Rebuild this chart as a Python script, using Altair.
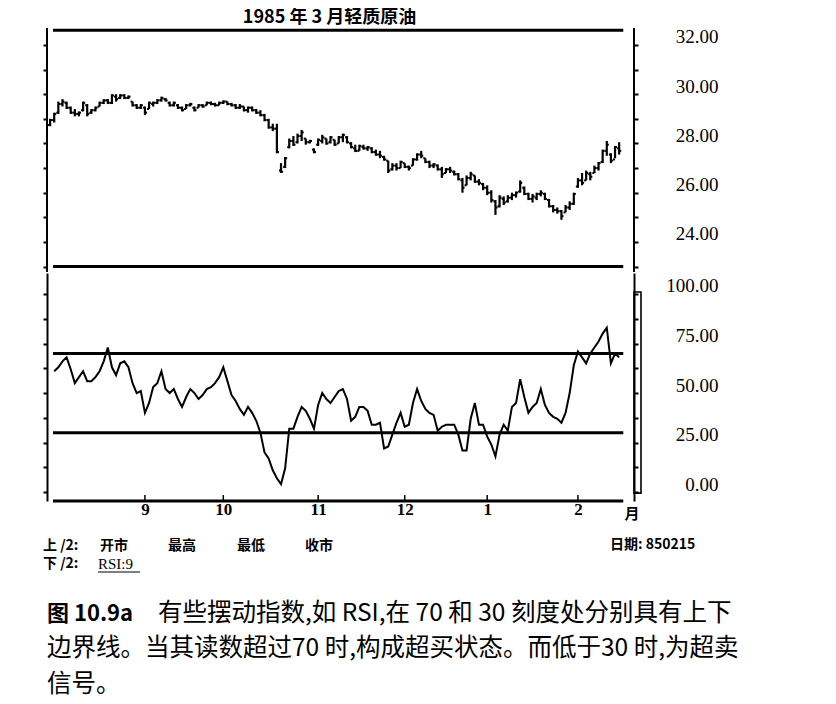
import altair as alt
import pandas as pd

TITLE = "1985 年 3 月轻质原油"

# Daily OHLC (trading-day index 0..138, Aug 1984 - 15 Feb 1985)
OPEN = [28.75, 28.95, 29.25, 29.60, 29.65, 29.45, 29.25, 29.20, 29.35, 29.55,
        29.25, 29.35, 29.50, 29.65, 29.75, 29.65, 29.90, 29.85, 29.95, 29.85,
        29.70, 29.55, 29.45, 29.45, 29.40, 29.60, 29.65, 29.75, 29.80, 29.65,
        29.55, 29.55, 29.45, 29.40, 29.55, 29.45, 29.45, 29.55, 29.55, 29.65,
        29.60, 29.55, 29.65, 29.70, 29.60, 29.55, 29.45, 29.50, 29.35, 29.45,
        29.35, 29.25, 29.15, 28.95, 28.65, 28.60, 26.90, 27.05, 27.85, 28.10,
        28.05, 28.30, 28.20, 28.05, 27.75, 27.95, 28.10, 28.20, 28.05, 28.15,
        28.00, 28.25, 28.25, 28.00, 27.80, 27.70, 27.85, 27.80, 27.80, 27.65,
        27.55, 27.45, 27.30, 26.95, 27.10, 27.00, 27.20, 27.05, 27.10, 27.35,
        27.55, 27.40, 27.25, 27.10, 27.10, 26.95, 26.80, 26.95, 26.85, 26.75,
        26.50, 26.30, 26.60, 26.70, 26.45, 26.35, 26.20, 26.00, 25.65, 25.45,
        25.75, 25.65, 25.80, 25.90, 26.05, 26.20, 25.95, 25.75, 25.80, 25.95,
        25.95, 25.70, 25.45, 25.30, 25.25, 25.20, 25.40, 25.55, 26.25, 26.50,
        26.50, 26.75, 26.80, 27.00, 27.25, 27.70, 27.55, 27.35, 27.80]
HIGH = [29.00, 29.25, 29.70, 29.80, 29.70, 29.50, 29.40, 29.30, 29.70, 29.60,
        29.40, 29.50, 29.70, 29.80, 29.80, 30.00, 30.00, 30.00, 30.00, 29.95,
        29.70, 29.60, 29.60, 29.50, 29.70, 29.70, 29.80, 29.90, 29.85, 29.70,
        29.70, 29.60, 29.50, 29.60, 29.65, 29.50, 29.60, 29.60, 29.70, 29.70,
        29.65, 29.70, 29.75, 29.70, 29.65, 29.60, 29.60, 29.50, 29.50, 29.50,
        29.40, 29.35, 29.20, 29.00, 28.80, 28.80, 27.20, 27.45, 28.20, 28.30,
        28.40, 28.55, 28.20, 28.15, 27.80, 28.20, 28.35, 28.20, 28.30, 28.15,
        28.30, 28.40, 28.30, 28.05, 27.95, 27.95, 27.95, 27.90, 27.85, 27.75,
        27.70, 27.50, 27.30, 27.20, 27.20, 27.30, 27.20, 27.10, 27.40, 27.60,
        27.70, 27.40, 27.30, 27.20, 27.15, 27.05, 27.00, 27.05, 26.90, 26.80,
        26.60, 26.70, 26.85, 26.70, 26.55, 26.40, 26.30, 26.10, 25.70, 25.90,
        25.85, 25.90, 26.00, 26.05, 26.50, 26.25, 26.00, 25.95, 26.00, 26.10,
        26.00, 25.75, 25.50, 25.40, 25.30, 25.50, 25.65, 26.00, 26.60, 26.80,
        26.90, 26.85, 27.10, 27.25, 27.75, 28.10, 27.60, 27.90, 28.05]
LOW = [28.70, 28.85, 29.20, 29.50, 29.40, 29.20, 29.10, 29.10, 29.30, 29.10,
       29.20, 29.30, 29.50, 29.60, 29.60, 29.60, 29.70, 29.80, 29.80, 29.80,
       29.50, 29.40, 29.40, 29.15, 29.40, 29.50, 29.60, 29.70, 29.70, 29.50,
       29.50, 29.40, 29.30, 29.40, 29.50, 29.30, 29.45, 29.45, 29.55, 29.55,
       29.50, 29.55, 29.60, 29.55, 29.50, 29.40, 29.40, 29.30, 29.25, 29.30,
       29.20, 29.10, 28.90, 28.60, 28.50, 27.60, 26.80, 27.00, 27.80, 27.90,
       28.00, 28.10, 27.95, 28.00, 27.60, 27.90, 28.00, 27.95, 28.00, 27.90,
       28.00, 28.05, 28.00, 27.80, 27.65, 27.70, 27.75, 27.70, 27.60, 27.50,
       27.40, 27.30, 26.80, 26.90, 26.90, 27.00, 27.00, 26.90, 27.10, 27.30,
       27.40, 27.20, 27.00, 27.00, 26.90, 26.60, 26.80, 26.80, 26.70, 26.50,
       26.00, 26.30, 26.50, 26.40, 26.30, 26.10, 25.90, 25.60, 25.10, 25.40,
       25.50, 25.60, 25.70, 25.80, 26.00, 25.90, 25.70, 25.60, 25.70, 25.85,
       25.70, 25.40, 25.20, 25.15, 24.90, 25.20, 25.30, 25.50, 26.20, 26.30,
       26.50, 26.50, 26.80, 26.90, 27.20, 27.50, 27.20, 27.40, 27.55]
CLOSE = [28.95, 29.20, 29.60, 29.70, 29.45, 29.25, 29.20, 29.25, 29.65, 29.20,
         29.35, 29.45, 29.65, 29.75, 29.65, 29.95, 29.80, 29.95, 29.85, 29.90,
         29.55, 29.45, 29.55, 29.25, 29.65, 29.65, 29.75, 29.85, 29.75, 29.55,
         29.65, 29.45, 29.35, 29.55, 29.60, 29.35, 29.55, 29.50, 29.65, 29.60,
         29.55, 29.65, 29.70, 29.60, 29.55, 29.45, 29.50, 29.35, 29.45, 29.35,
         29.25, 29.15, 28.95, 28.65, 28.60, 27.65, 26.85, 27.40, 28.10, 27.95,
         28.30, 28.45, 28.05, 28.10, 27.65, 28.15, 28.25, 28.00, 28.25, 27.95,
         28.25, 28.35, 28.05, 27.85, 27.70, 27.90, 27.80, 27.85, 27.65, 27.55,
         27.50, 27.35, 26.90, 27.10, 27.00, 27.25, 27.05, 27.00, 27.35, 27.55,
         27.50, 27.25, 27.10, 27.15, 26.95, 26.75, 26.95, 26.90, 26.75, 26.55,
         26.20, 26.60, 26.75, 26.45, 26.40, 26.20, 26.00, 25.70, 25.40, 25.80,
         25.60, 25.80, 25.90, 26.00, 26.40, 25.95, 25.75, 25.85, 25.95, 26.00,
         25.75, 25.45, 25.30, 25.25, 25.05, 25.40, 25.55, 25.95, 26.50, 26.40,
         26.80, 26.65, 27.00, 27.20, 27.70, 27.95, 27.30, 27.85, 27.70]

# RSI(9), starting at trading day 1
RSI = [61, 63, 66, 68, 62, 55, 58, 61, 56, 56, 58, 61, 66, 73, 63, 59, 65, 66, 63, 55,
       50, 51, 40, 45, 53, 55, 61, 52, 50, 52, 47, 43, 48, 52, 50, 47, 49, 52, 53, 55,
       58, 63, 56, 49, 46, 42, 39, 43, 40, 36, 30, 20, 17, 11, 7, 4, 12, 32, 32, 38,
       43, 41, 37, 32, 44, 50, 47, 45, 48, 51, 52, 47, 36, 38, 43, 43, 41, 34, 34, 35,
       22, 23, 29, 35, 40, 33, 34, 45, 52, 46, 42, 40, 39, 31, 33, 34, 34, 34, 29, 21,
       21, 37, 45, 34, 34, 28, 24, 18, 29, 34, 31, 43, 45, 57, 48, 40, 43, 45, 52, 44,
       40, 38, 37, 35, 40, 50, 64, 71, 68, 65, 70, 73, 76, 80, 83, 65, 70, 68]

MONTH_IDX = [23, 42, 65, 86, 106, 128]
MONTH_LABELS = ["9", "10", "11", "12", "1", "2"]
PRICE_TICKS = [23, 24, 25, 26, 27, 28, 29, 30, 31, 32]
RSI_TICKS = [0, 12.5, 25, 37.5, 50, 62.5, 75, 87.5, 100]
PRICE_FRAME = [32.6, 23.0]
RSI_LEVELS = [70, 30, -4.5]

FOOT_TOP = ["上 /2:", "开市", "最高", "最低", "收市"]
FOOT_BOTTOM = ["下 /2:", "RSI:9"]
DATE_TEXT = "日期: 850215"
MONTH_UNIT = "月"
CAP_BOLD = "图 10.9a"
CAPTION = ["有些摆动指数,如 RSI,在 70 和 30 刻度处分别具有上下",
           "边界线。当其读数超过70 时,构成超买状态。而低于30 时,为超卖",
           "信号。"]

# ---------------------------------------------------------------- layout
W, HP, HR = 587, 264, 228
XDOM = [-0.75, 141.6]
PDOM = [22.78, 33.50]
PAXIS_TOP = 32.69
RDOM = [-4.5, 110.6]
LINE_SPAN = [0.7, 139.0]
SERIF = "Liberation Serif"
CJK = "Noto Sans CJK SC"

n = len(CLOSE)
price_df = pd.DataFrame({"i": list(range(n)), "open": OPEN, "high": HIGH,
                         "low": LOW, "close": CLOSE})
rsi_df = pd.DataFrame({"i": list(range(1, n)), "rsi": RSI})
pframe = pd.DataFrame({"y": PRICE_FRAME, "x0": LINE_SPAN[0], "x1": LINE_SPAN[1]})
rframe = pd.DataFrame({"y": RSI_LEVELS, "x0": LINE_SPAN[0], "x1": LINE_SPAN[1]})
mticks = pd.DataFrame({"i": MONTH_IDX})
paxes = pd.DataFrame({"x": XDOM, "y0": PDOM[0], "y1": PAXIS_TOP})

xs = alt.Scale(domain=XDOM, nice=False, zero=False)
ps = alt.Scale(domain=PDOM, nice=False, zero=False)
rs = alt.Scale(domain=RDOM, nice=False, zero=False)

axis_common = dict(title=None, grid=False, domainColor="black", domainWidth=2,
                   tickColor="black", tickWidth=2, tickSize=4)
lab_common = dict(labelAlign="right", labelPadding=80, labelFont=SERIF,
                  labelFontSize=19, labelColor="black", labelBaseline="middle",
                  labelOffset=-8)
left_p = alt.Axis(orient="left", values=PRICE_TICKS, labels=False, domain=False,
                  **axis_common)
right_p = alt.Axis(orient="right", values=PRICE_TICKS, domain=False,
                   labelExpr="datum.value % 2 == 0 ? format(datum.value, '.2f') : ''",
                   **lab_common, **axis_common)
left_r = alt.Axis(orient="left", values=RSI_TICKS, labels=False, **axis_common)
right_r = alt.Axis(orient="right", values=RSI_TICKS,
                   labelExpr="datum.value % 25 == 0 ? format(datum.value, '.2f') : ''",
                   **lab_common, **axis_common)
lab_arr = "[" + ",".join("'%s'" % s for s in MONTH_LABELS) + "]"
idx_arr = "[" + ",".join(str(v) for v in MONTH_IDX) + "]"
bottom_x = alt.Axis(orient="bottom", values=MONTH_IDX, title=None, grid=False,
                    domain=False, ticks=False, labelPadding=0,
                    labelExpr=f"{lab_arr}[indexof({idx_arr}, datum.value)]",
                    labelFont=SERIF, labelFontSize=17, labelFontWeight="bold",
                    labelColor="black")

base = alt.Chart(price_df)
hl = base.mark_rule(color="black", strokeWidth=2.2).encode(
    x=alt.X("i:Q", scale=xs, axis=None),
    y=alt.Y("low:Q", scale=ps, axis=left_p), y2="high:Q")
op = base.transform_calculate(xo="datum.i - 0.5").mark_rule(
    color="black", strokeWidth=2).encode(
    x=alt.X("xo:Q", scale=xs, axis=None), x2="i:Q",
    y=alt.Y("open:Q", scale=ps, axis=None))
cl = base.transform_calculate(xc="datum.i + 0.5").mark_rule(
    color="black", strokeWidth=2).encode(
    x=alt.X("i:Q", scale=xs, axis=None), x2="xc:Q",
    y=alt.Y("close:Q", scale=ps, axis=right_p))
pf = alt.Chart(pframe).mark_rule(color="black", strokeWidth=3).encode(
    x=alt.X("x0:Q", scale=xs, axis=None), x2="x1:Q",
    y=alt.Y("y:Q", scale=ps, axis=None))
pax = alt.Chart(paxes).mark_rule(color="black", strokeWidth=2).encode(
    x=alt.X("x:Q", scale=xs, axis=None),
    y=alt.Y("y0:Q", scale=ps, axis=None), y2="y1:Q")
ttl = alt.Chart(pd.DataFrame({"t": [TITLE]})).mark_text(
    font=CJK, fontSize=18, fontWeight="bold", color="black", align="center",
    baseline="middle").encode(x=alt.value(W / 2 - 11), y=alt.value(10), text="t:N")

price = alt.layer(hl, op, cl, pf, pax, ttl).resolve_axis(y="independent").properties(
    width=W, height=HP)

rb = alt.Chart(rsi_df)
rl = rb.mark_line(color="black", strokeWidth=2).encode(
    x=alt.X("i:Q", scale=xs, axis=bottom_x),
    y=alt.Y("rsi:Q", scale=rs, axis=left_r))
rf = alt.Chart(rframe).mark_rule(color="black", strokeWidth=3).encode(
    x=alt.X("x0:Q", scale=xs, axis=None), x2="x1:Q",
    y=alt.Y("y:Q", scale=rs, axis=None))
mt = alt.Chart(mticks).mark_rule(color="black", strokeWidth=1.5).encode(
    x=alt.X("i:Q", scale=xs, axis=None),
    y=alt.datum(RDOM[0], scale=rs, axis=None), y2=alt.datum(RDOM[0] + 3))
box = alt.Chart(pd.DataFrame({"top": [101.0], "bot": [-0.5]})).mark_rect(
    fill="transparent", stroke="black", strokeWidth=1.6).encode(
    x=alt.value(W), x2=alt.value(W + 7),
    y=alt.Y("top:Q", scale=rs, axis=right_r), y2="bot:Q")


def txt(s, x, y, size=14, weight="bold", font=CJK, align="left"):
    return alt.Chart(pd.DataFrame({"t": [s]})).mark_text(
        font=font, fontSize=size, fontWeight=weight, color="black", align=align,
        baseline="middle").encode(x=alt.value(x), y=alt.value(y), text="t:N")


texts = [
    txt(MONTH_UNIT, W - 2, 241, size=15, align="center"),
    txt(FOOT_TOP[0], -4, 273), txt(FOOT_TOP[1], 53, 273), txt(FOOT_TOP[2], 121, 273),
    txt(FOOT_TOP[3], 190, 273), txt(FOOT_TOP[4], 258, 273),
    txt(FOOT_BOTTOM[0], -4, 291),
    txt(FOOT_BOTTOM[1], 51, 291, font=SERIF, weight="normal", size=15),
    txt(DATE_TEXT, 563, 272),
    txt(CAP_BOLD, 0, 341, size=22, weight="bold"),
    txt(CAPTION[0], 111, 341, size=24.5, weight="normal"),
    txt(CAPTION[1], 0, 376, size=24.5, weight="normal"),
    txt(CAPTION[2], 0, 412, size=24.5, weight="normal"),
]
uline = alt.Chart(pd.DataFrame({"a": [0]})).mark_rule(color="black", strokeWidth=1).encode(
    x=alt.value(51), x2=alt.value(93), y=alt.value(299))

rsi = alt.layer(rl, rf, mt, box, uline, *texts).resolve_axis(
    y="independent", x="independent").properties(width=W, height=HR)

chart = alt.vconcat(price, rsi, spacing=0).properties(
    padding={"left": 34, "top": 0, "right": 5, "bottom": 5}
).configure(background="white").configure_view(stroke="transparent", strokeWidth=0)

chart.save("out.html", embed_options={"renderer": "svg", "actions": False})
